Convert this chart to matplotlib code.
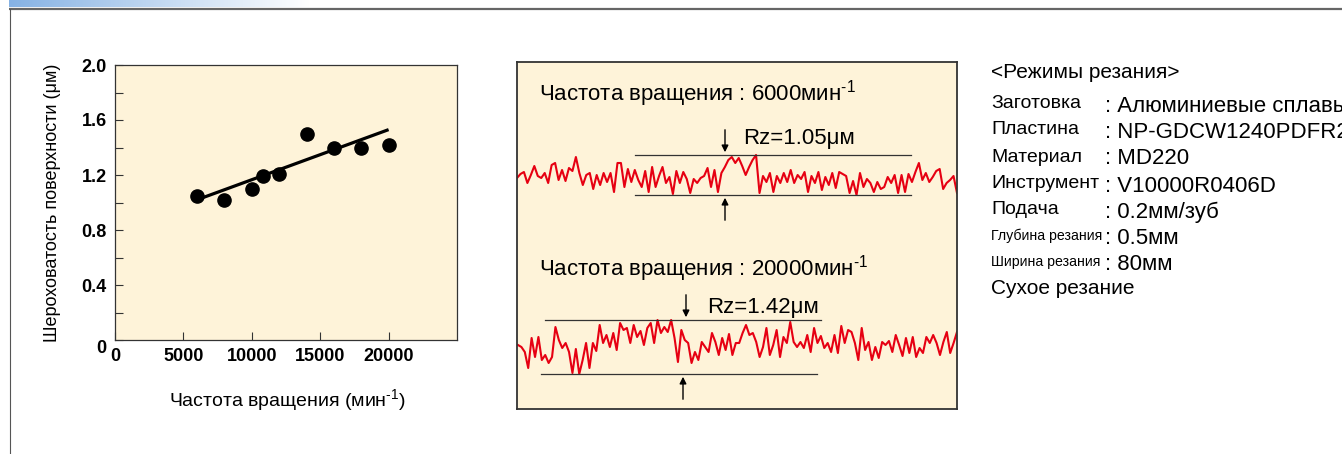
import numpy as np
import matplotlib.pyplot as plt
from matplotlib import font_manager
from matplotlib.colors import LinearSegmentedColormap

plt.rcParams['font.family'] = ['Liberation Sans', 'DejaVu Sans']
plt.rcParams['mathtext.fontset'] = 'custom'
plt.rcParams['mathtext.rm'] = 'Liberation Sans'
plt.rcParams['mathtext.it'] = 'Liberation Sans:italic'
plt.rcParams['mathtext.bf'] = 'Liberation Sans:bold'

# Scatter data: spindle speed vs surface roughness
speed = [6000, 8000, 10000, 10800, 12000, 14000, 16000, 18000, 20000]
roughness = [1.05, 1.02, 1.10, 1.19, 1.21, 1.50, 1.40, 1.40, 1.42]
trend_speed = [6000, 20000]
trend_rz = [1.02, 1.53]
x_ticks = [0, 5000, 10000, 15000, 20000]
y_ticks = [0, 0.2, 0.4, 0.6, 0.8, 1.0, 1.2, 1.4, 1.6, 1.8, 2.0]
y_ticklabels = ['0', '', '0.4', '', '0.8', '', '1.2', '', '1.6', '', '2.0']

# Surface profiles (height deviation)
profile_6000 = [-2, 2, 4, -7, 1, 10, 0, -2, 3, -7, 11, 13, -4, 6, -5, 8, 5, 19, 3, -9,
                1, 3, -13, 1, -9, 3, -6, 3, -16, 13,
                13, -11, 7, -6, 6, -4, -11, 5, -16, 9, -11, 0, 9, -7, -1, -18, 5, -7, 4, -3,
                -17, -3, -7, -2, 0, 8, -11, 6, -16, 3, 9, 16,
                19, 13, 18, 10, 1, 9, 16, 21, -17, 0, -6, 3, -16, 0, -7, 3, -6, 6, -7, 1,
                -3, 4, -16, 0, -7, 4, -14, -1, -9, 3, -12, 4,
                2, 0, -17, -5, -19, 3, -11, -3, -7, -16, -6, -13, -11, -1, -7, 1, -17, 1, -16, 2,
                -6, 4, 13, -4, 3, -6, -1, 5, 7, -13, -7, -4, 0, -17]
profile_20000 = [2, 0, -5, -21, 9, -10, 10, -13, -8, -16, -10, 20, 7, -1, 4, -5, -26, -2, -27, -13,
                 4, -21, 4, -4, 22, 4, 12, 0, 14, -3, 24, 17,
                 19, 4, 22, 10, 16, 2, 19, 24, 4, 27, 14, 20, 15, 27, 9, -15, 17, 7,
                 4, -16, -5, -13, 5, 0, -5, 14, 5, -8, 9, -3, 13, -8, 4,
                 4, 14, 22, 12, 14, 5, -10, 0, 19, -8, 2, 17, -10, 10, 4, 25, 5, 0, 5, -1,
                 12, -5, 19, 4, 11, -1, 4, -5, 12, -6, 21, 4, 17,
                 15, 4, -13, 19, -3, 5, -13, 0, -11, 5, 2, 6, -5, 12, 2, -9, 9, -6, 10, -10,
                 -1, -6, 10, 4, 12, 4, -8, 5, 15, -6, 4, 15]
sup = r'$^{\text{-}1}$'
profile_titles = ['Частота вращения : 6000мин' + sup, 'Частота вращения : 20000мин' + sup]
rz_labels = ['Rz=1.05μм', 'Rz=1.42μм']

# Cutting conditions
cond_title = '<Режимы резания>'
cond_names = ['Заготовка', 'Пластина', 'Материал', 'Инструмент', 'Подача',
              'Глубина резания', 'Ширина резания']
cond_values = ['Алюминиевые сплавы', 'NP-GDCW1240PDFR2', 'MD220', 'V10000R0406D',
               '0.2мм/зуб', '0.5мм', '80мм']
cond_last = 'Сухое резание'

W, H = 1342, 454
cream = '#FEF3D9'
red = '#E60012'

installed = {f.name for f in font_manager.fontManager.ttflist}
narrow = 'Liberation Sans Narrow' if 'Liberation Sans Narrow' in installed else 'Liberation Sans'
narrow_size = 12.5 if narrow == 'Liberation Sans Narrow' else 10.2

fig = plt.figure(figsize=(W / 100, H / 100), dpi=100)

# background frame in pixel coordinates
bg = fig.add_axes([0, 0, 1, 1], zorder=-1)
bg.set_xlim(0, W)
bg.set_ylim(H, 0)
bg.axis('off')
grad = LinearSegmentedColormap.from_list('g', ['#86B2E4', '#FFFFFF'])
bg.imshow(np.linspace(0, 1, 256).reshape(1, -1), cmap=grad, extent=(9, 310, 7.5, 0), aspect='auto')
bg.plot([9, W], [8.5, 8.5], color='#666666', lw=1.6, solid_capstyle='butt')
bg.plot([9.5, 9.5], [8.5, H], color='#555555', lw=0.8)

# left scatter chart
ax = fig.add_axes([115 / W, 1 - 340 / H, 342 / W, 275 / H])
ax.set_facecolor(cream)
ax.plot(trend_speed, trend_rz, color='black', lw=2.3, solid_capstyle='butt')
ax.plot(speed, roughness, 'o', color='black', ms=9.5)
ax.set_xlim(0, 25000)
ax.set_ylim(0, 2.0)
ax.set_xticks(x_ticks)
ax.set_xticklabels([str(v) for v in x_ticks], fontweight='bold', fontsize=13)
ax.set_yticks(y_ticks)
ax.set_yticklabels(y_ticklabels, fontweight='bold', fontsize=13)
ax.tick_params(direction='in', length=6, width=0.8, color='#333333', pad=6)
ax.yaxis.get_ticklabels()[0].set_va('top')
for s in ax.spines.values():
    s.set_color('#333333')
    s.set_linewidth(0.9)
ax.set_xlabel('Частота вращения (мин' + sup + ')', fontsize=14)
ax.xaxis.set_label_coords(0.503, -0.218)
ax.xaxis.label.set_va('center')
ax.set_ylabel('Шероховатость поверхности (μм)', fontsize=13)
ax.yaxis.set_label_coords(-0.184, 0.5)
ax.yaxis.label.set_va('center')

# middle profile box, pixel-like coordinates
pb = fig.add_axes([517 / W, 1 - 409 / H, 440 / W, 347 / H])
pb.set_facecolor(cream)
pb.set_xlim(0, 440)
pb.set_ylim(347, 0)
pb.set_xticks([])
pb.set_yticks([])
for s in pb.spines.values():
    s.set_color('#333333')
    s.set_linewidth(1.3)

panels = [
    dict(prof=profile_6000, base=114, x0=0, top_x=(118, 394), bot_x=(118, 394),
         arrow_x=(208, 208), title_y=32, rz_xy=(226, 76)),
    dict(prof=profile_20000, base=285, x0=1, top_x=(28, 304), bot_x=(24, 300),
         arrow_x=(169, 166), title_y=207, rz_xy=(190, 246)),
]
for p, title, rz in zip(panels, profile_titles, rz_labels):
    prof = np.array(p['prof'], dtype=float)
    xs = np.linspace(p['x0'], 440, len(prof))
    pb.plot(xs, p['base'] - prof, color=red, lw=1.5)
    top = p['base'] - prof.max()
    bot = p['base'] - prof.min()
    pb.plot(p['top_x'], [top, top], color='#333333', lw=0.9)
    pb.plot(p['bot_x'], [bot, bot], color='#333333', lw=0.9)
    pb.annotate('', xy=(p['arrow_x'][0], top), xytext=(p['arrow_x'][0], top - 28),
                arrowprops=dict(arrowstyle='-|>', color='black', lw=1, mutation_scale=10))
    pb.annotate('', xy=(p['arrow_x'][1], bot), xytext=(p['arrow_x'][1], bot + 28),
                arrowprops=dict(arrowstyle='-|>', color='black', lw=1, mutation_scale=10))
    pb.text(22, p['title_y'], title, fontsize=16, va='center', ha='left')
    pb.text(p['rz_xy'][0], p['rz_xy'][1], rz, fontsize=16, va='center', ha='left')

# cutting conditions text
row_y = [104, 130, 157, 184, 210, 236, 262]
bg.text(991, 73, cond_title, fontsize=15, va='center', ha='left')
for name, val, y in zip(cond_names, cond_values, row_y):
    if name.startswith('Глубина') or name.startswith('Ширина'):
        bg.text(991, y, name, fontsize=narrow_size, family=narrow, va='center', ha='left')
    else:
        bg.text(991, y, name, fontsize=14, va='center', ha='left')
    bg.text(1105, y + 2, ': ' + val, fontsize=16, va='center', ha='left')
bg.text(991, 288, cond_last, fontsize=15, va='center', ha='left')

fig.savefig('out.png', dpi=100)
